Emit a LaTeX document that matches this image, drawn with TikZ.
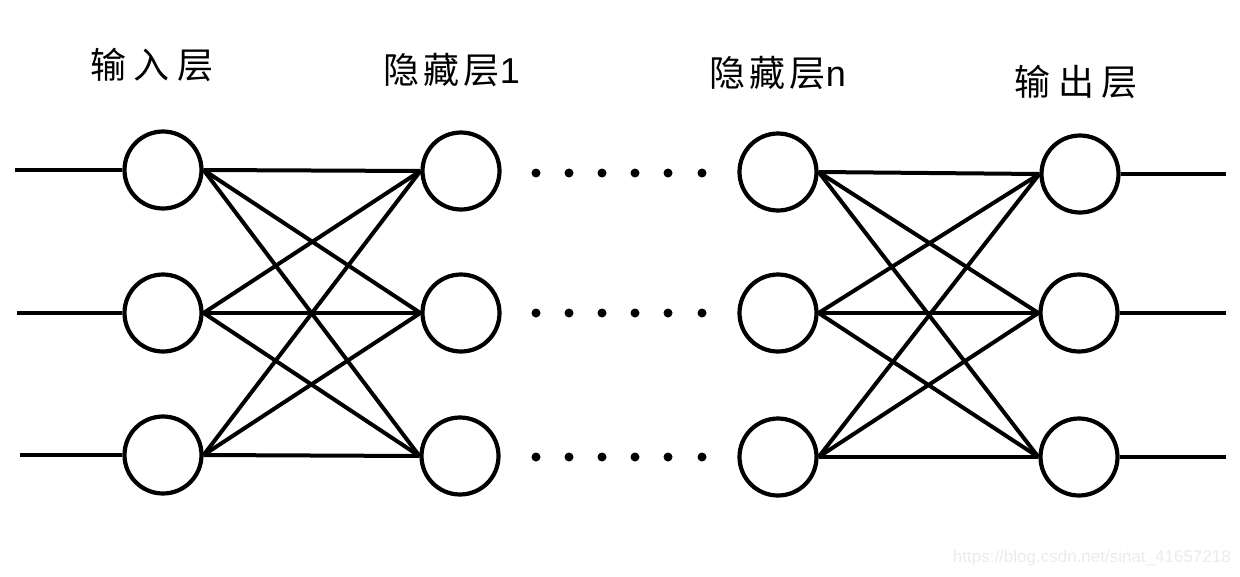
\documentclass[tikz,border=0pt]{standalone}
\usepackage{fontspec}
\newfontfamily\cjk{Noto Sans CJK SC}
\newfontfamily\lat{Liberation Sans}
\begin{document}
\begin{tikzpicture}[x=1pt,y=-1pt,
  neuron/.style={circle,draw,line width=4.2pt,minimum size=77pt,inner sep=0pt},
  conn/.style={line width=4pt},
  dotm/.style={circle,fill,inner sep=0pt,minimum size=9pt},
  lbl/.style={inner sep=0pt,font=\cjk\fontsize{36}{36}\selectfont}]
\useasboundingbox (0,0) rectangle (1240,576);
% labels
\node[lbl] (L1) at (152,65) {输\hspace{8pt}入\hspace{8pt}层};
\node[lbl] (L2) at (452,70) {隐\hspace{4pt}藏\hspace{4pt}层{\lat 1}};
\node[lbl] (L3) at (778,73) {隐\hspace{4pt}藏\hspace{4pt}层{\lat n}};
\node[lbl] (L4) at (1076,82) {输\hspace{8pt}出\hspace{8pt}层};
% neurons
\node[neuron] (i1) at (163,170) {};
\node[neuron] (i2) at (163,313) {};
\node[neuron] (i3) at (163,455) {};
\node[neuron] (h1) at (461,171) {};
\node[neuron] (h2) at (461,313) {};
\node[neuron] (h3) at (460,456) {};
\node[neuron] (n1) at (778,172) {};
\node[neuron] (n2) at (778,313) {};
\node[neuron] (n3) at (778,457) {};
\node[neuron] (o1) at (1080,174) {};
\node[neuron] (o2) at (1079,313) {};
\node[neuron] (o3) at (1079,457) {};
% input and output lines
\coordinate (a1) at (15,170);
\coordinate (a2) at (17,313);
\coordinate (a3) at (20,455);
\coordinate (b1) at (1226,174);
\coordinate (b2) at (1226,313);
\coordinate (b3) at (1226,457);
\foreach \k in {1,2,3}{
  \draw[conn] (a\k) -- (i\k.west);
  \draw[conn] (o\k.east) -- (b\k);
}
% full connections
\foreach \p in {1,2,3}{
  \foreach \q in {1,2,3}{
    \draw[conn] (i\p.east) -- (h\q.west);
    \draw[conn] (n\p.east) -- (o\q.west);
  }
}
% dots
\foreach \y [count=\r] in {173,313,457}{
  \foreach \x [count=\c] in {536,569,602,635,668,702}{
    \node[dotm] (d\r\c) at (\x,\y) {};
  }
}
% watermark
\node[anchor=east,inner sep=0pt,text=black!8,font=\lat\fontsize{17}{17}\selectfont] (wm) at (1231,558) {https://blog.csdn.net/sinat\_41657218};
\end{tikzpicture}
\end{document}
